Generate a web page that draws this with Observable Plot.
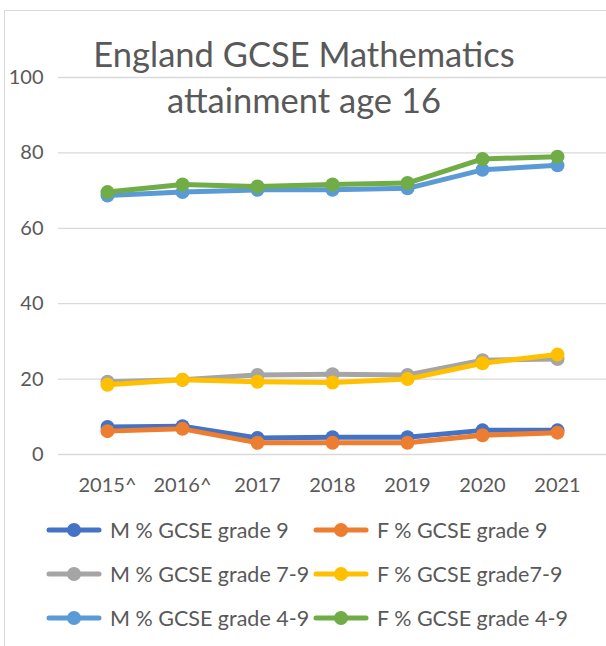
<!DOCTYPE html>
<html>
<head>
<meta charset="utf-8">
<script src="https://cdn.jsdelivr.net/npm/d3@7"></script>
<script src="https://cdn.jsdelivr.net/npm/@observablehq/plot@0.6"></script>
<style>
  html, body { margin: 0; padding: 0; width: 606px; height: 646px; overflow: hidden; background: #fff; }
  body { position: relative; font-family: Lato, "Open Sans", sans-serif; color: #595959; }
  #frame { position: absolute; left: 4px; top: 10px; width: 800px; height: 800px; border: 1px solid #d9d9d9; box-sizing: border-box; }
  #chart { position: absolute; left: 0; top: 0; }
  #title { position: absolute; left: 0; width: 608px; top: 31px; text-align: center; font-size: 34.5px; line-height: 46px; color: #595959; }
  #legend { position: absolute; left: 46px; top: 508px; display: grid; grid-template-columns: 267px auto; grid-auto-rows: 44px; }
  .item { display: flex; align-items: center; font-size: 21.5px; color: #595959; white-space: nowrap; }
  .item svg { margin-right: 8px; }
</style>
</head>
<body>
<div id="frame"></div>
<div id="chart"></div>
<div id="title">England GCSE Mathematics<br>attainment age 16</div>
<div id="legend"></div>
<script>
const years = ["2015^", "2016^", "2017", "2018", "2019", "2020", "2021"];
const seriesNames = ["M % GCSE grade 9", "F % GCSE grade 9", "M % GCSE grade 7-9", "F % GCSE grade7-9", "M % GCSE grade 4-9", "F % GCSE grade 4-9"];
const seriesColors = ["#4472C4", "#ED7D31", "#A5A5A5", "#FFC000", "#5B9BD5", "#70AD47"];
const m9  = [7.3, 7.5, 4.4, 4.6, 4.6, 6.4, 6.4];
const f9  = [6.2, 6.8, 3.1, 3.1, 3.1, 5.1, 5.8];
const m79 = [19.3, 19.8, 21.1, 21.3, 21.1, 25.0, 25.3];
const f79 = [18.5, 19.8, 19.3, 19.1, 20.0, 24.2, 26.5];
const m49 = [68.7, 69.6, 70.2, 70.2, 70.6, 75.5, 76.7];
const f49 = [69.6, 71.6, 71.1, 71.6, 72.0, 78.4, 79.0];
const yTicks = [0, 20, 40, 60, 80, 100];

const seriesValues = [m9, f9, m79, f79, m49, f49];
const seriesData = seriesValues.map((vals, i) =>
  vals.map((v, j) => ({ year: years[j], value: v, series: seriesNames[i] }))
);

const marks = [Plot.ruleY(yTicks, { stroke: "#d9d9d9", strokeWidth: 1.3 })];
seriesData.forEach((d, i) => {
  marks.push(Plot.line(d, { x: "year", y: "value", stroke: seriesColors[i], strokeWidth: 5, strokeLinejoin: "round", strokeLinecap: "round" }));
  marks.push(Plot.dot(d, { x: "year", y: "value", fill: seriesColors[i], r: 7 }));
});

const chart = Plot.plot({
  width: 606,
  height: 500,
  marginTop: 77,
  marginBottom: 46,
  marginLeft: 58,
  marginRight: 0,
  style: { fontFamily: "Lato, 'Open Sans', sans-serif", fontSize: "20px", color: "#595959", background: "transparent" },
  x: { type: "point", domain: years, padding: 0.62, label: null, tickSize: 0, tickPadding: 23 },
  y: { domain: [0, 100], ticks: yTicks, label: null, tickSize: 0, tickPadding: 15 },
  marks
});
document.getElementById("chart").appendChild(chart);

const legend = document.getElementById("legend");
seriesNames.forEach((name, i) => {
  const item = document.createElement("div");
  item.className = "item";
  item.innerHTML = `<svg width="56" height="16"><line x1="3" y1="8" x2="53" y2="8" stroke="${seriesColors[i]}" stroke-width="5" stroke-linecap="round"/><circle cx="28" cy="8" r="7" fill="${seriesColors[i]}"/></svg><span>${name}</span>`;
  legend.appendChild(item);
});
</script>
</body>
</html>
